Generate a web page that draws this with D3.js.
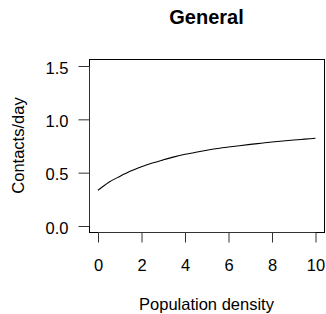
<!DOCTYPE html>
<html>
<head>
<meta charset="utf-8">
<script src="https://cdn.jsdelivr.net/npm/d3@7"></script>
<style>
  html, body { margin: 0; padding: 0; background: #fff; }
  svg { display: block; font-family: "Liberation Sans", Arial, Helvetica, sans-serif; }
</style>
</head>
<body>
<svg id="chart" width="326" height="314"></svg>
<script>
const title = "General";
const xLabel = "Population density";
const yLabel = "Contacts/day";
const densityX = [0, 0.5, 1, 1.5, 2, 2.5, 3, 3.5, 4, 4.5, 5, 5.5, 6, 6.5, 7, 7.5, 8, 8.5, 9, 9.5, 10];
const contactsY = [0.335, 0.41, 0.465, 0.515, 0.555, 0.59, 0.62, 0.648, 0.672, 0.692, 0.71, 0.726, 0.74, 0.753, 0.765, 0.776, 0.787, 0.797, 0.806, 0.814, 0.822];
const xTicks = [0, 2, 4, 6, 8, 10];
const yTicks = [0.0, 0.5, 1.0, 1.5];

const svg = d3.select("#chart");
const box = { left: 89, right: 324, top: 59, bottom: 232 };

const x = d3.scaleLinear().domain([0, 10]).range([98, 315.5]);
const y = d3.scaleLinear().domain([0, 1.5]).range([226, 66]);

// plot box
svg.append("rect")
  .attr("x", box.left + 0.5).attr("y", box.top + 0.5)
  .attr("width", box.right - box.left).attr("height", box.bottom - box.top)
  .attr("fill", "none").attr("stroke", "#000").attr("stroke-width", 1);

// x axis
const xAxis = d3.axisBottom(x).tickValues(xTicks).tickSize(10).tickPadding(18)
  .tickFormat(d3.format("d"));
const gx = svg.append("g").attr("transform", `translate(0,${box.bottom + 0.5})`).call(xAxis);
gx.select(".domain").attr("d", `M${x(0)},0H${x(10)}`).attr("stroke", "#333");
gx.selectAll(".tick line").attr("stroke", "#333");
gx.selectAll(".tick text").attr("font-size", 16.5).attr("fill", "#000").attr("dy", null)
  .attr("y", 38);

// y axis
const yAxis = d3.axisLeft(y).tickValues(yTicks).tickSize(11).tickPadding(9)
  .tickFormat(d3.format(".1f"));
const gy = svg.append("g").attr("transform", `translate(${box.left + 0.5},0)`).call(yAxis);
gy.select(".domain").attr("d", `M0,${y(0)}V${y(1.5)}`).attr("stroke", "#333");
gy.selectAll(".tick line").attr("stroke", "#333");
gy.selectAll(".tick text").attr("font-size", 16.5).attr("fill", "#000").attr("dy", null)
  .attr("y", 7).attr("x", -21);

// curve
const line = d3.line().x((d, i) => x(densityX[i])).y(d => y(d)).curve(d3.curveMonotoneX);
svg.append("path").datum(contactsY)
  .attr("d", line).attr("fill", "none").attr("stroke", "#000").attr("stroke-width", 1.1);

// title
svg.append("text").attr("x", (box.left + box.right) / 2).attr("y", 24)
  .attr("text-anchor", "middle").attr("font-weight", "bold").attr("font-size", 20)
  .text(title);

// x label
svg.append("text").attr("x", (box.left + box.right) / 2).attr("y", 310)
  .attr("text-anchor", "middle").attr("font-size", 16.5).text(xLabel);

// y label
svg.append("text").attr("transform", `translate(24,${(box.top + box.bottom) / 2}) rotate(-90)`)
  .attr("text-anchor", "middle").attr("font-size", 16.5).text(yLabel);
</script>
</body>
</html>
